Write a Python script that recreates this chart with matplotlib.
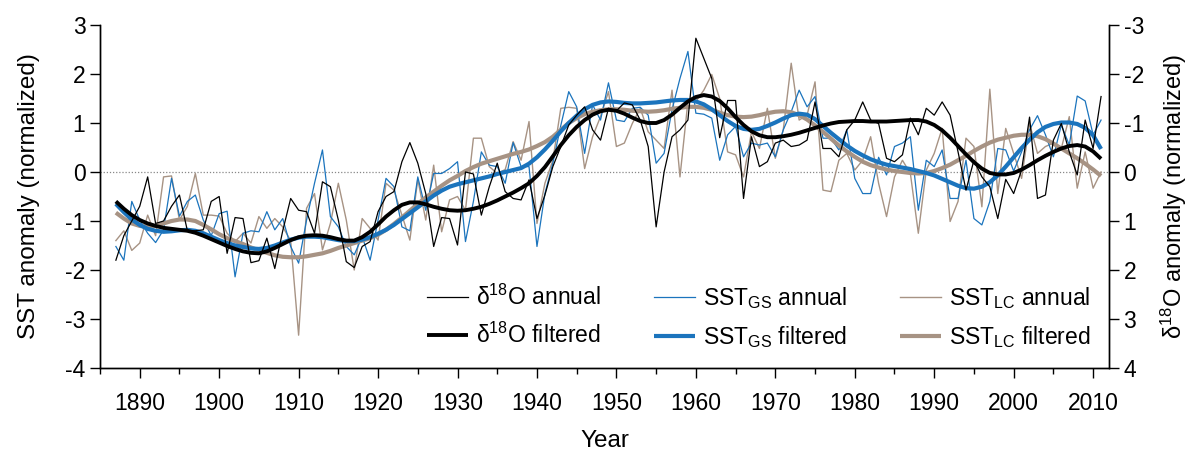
import numpy as np
import matplotlib
matplotlib.use("Agg")
import matplotlib.pyplot as plt

plt.rcParams['font.family'] = ['Liberation Sans', 'DejaVu Sans']
plt.rcParams['mathtext.fontset'] = 'custom'
plt.rcParams['mathtext.rm'] = 'Liberation Sans'
plt.rcParams['mathtext.default'] = 'regular'
plt.rcParams['axes.unicode_minus'] = False

years = np.arange(1887, 2012)

# coral d18O anomaly (normalized), plotted on the inverted right axis
d18o_annual = [
    1.80, 1.30, 1.00,
    0.70, 0.10, 1.05, 1.00, 0.70, 0.47, 1.20, 1.20, 1.18, 0.60,
    0.50, 1.66, 0.93, 0.95, 1.85, 1.81, 1.35, 1.97, 1.20, 0.54,
    0.78, 0.81, 1.25, 0.20, 0.30, 0.98, 1.83, 1.95, 1.52, 1.42,
    0.81, 0.50, 0.40, -0.21, -0.60, -0.18, 0.44, 1.52, 0.93, 0.95,
    1.49, 0.00, 0.04, 0.88, 0.30, -0.18, 0.40, 0.54, 0.57, 0.16,
    0.95, 0.47, -0.11, -0.52, -0.96, -1.16, -1.33, -0.86, -0.65, -1.30,
    -1.25, -1.41, -1.37, -1.06, -0.52, 1.12, 0.00, -0.72, -0.86, -1.06,
    -2.73, -2.32, -1.91, -0.70, -1.46, -1.46, 0.54, -0.72, -0.11, -0.21,
    -0.59, -0.65, -0.52, -0.55, -0.65, -1.43, -0.48, -0.48, -0.31, -0.86,
    -1.06, -1.43, -1.06, -0.99, -0.28, -0.21, -0.35, -1.10, -0.76, -1.30,
    -1.16, -1.43, -1.16, -0.41, 0.37, -0.24, 0.10, 0.30, 0.95, 0.15,
    0.44, -0.04, -1.12, 0.54, 0.47, -0.65, -0.99, -0.41, 0.06, -1.06,
    -0.48, -1.54,
]
d18o_filtered = [
    0.60, 0.75, 0.88,
    0.98, 1.05, 1.10, 1.14, 1.16, 1.18, 1.20, 1.24, 1.30, 1.37,
    1.44, 1.51, 1.57, 1.62, 1.65, 1.66, 1.62, 1.55, 1.47, 1.39,
    1.33, 1.30, 1.29, 1.30, 1.33, 1.37, 1.40, 1.40, 1.33, 1.22,
    1.07, 0.91, 0.78, 0.67, 0.62, 0.62, 0.66, 0.71, 0.75, 0.78,
    0.79, 0.78, 0.75, 0.71, 0.65, 0.58, 0.50, 0.42, 0.33, 0.23,
    0.08, -0.10, -0.32, -0.55, -0.75, -0.92, -1.06, -1.17, -1.24, -1.27,
    -1.25, -1.19, -1.11, -1.04, -1.00, -1.00, -1.06, -1.17, -1.31, -1.44,
    -1.53, -1.57, -1.54, -1.45, -1.30, -1.12, -0.96, -0.83, -0.75, -0.71,
    -0.71, -0.73, -0.76, -0.80, -0.85, -0.90, -0.95, -0.99, -1.02, -1.03,
    -1.04, -1.04, -1.03, -1.03, -1.03, -1.04, -1.05, -1.06, -1.06, -1.03,
    -0.96, -0.85, -0.70, -0.53, -0.36, -0.20, -0.07, 0.02, 0.05, 0.05,
    0.02, -0.05, -0.14, -0.24, -0.33, -0.41, -0.48, -0.53, -0.55, -0.52,
    -0.42, -0.27,
]

# SST anomaly (normalized), GS record
sst_gs_annual = [
    -1.52, -1.80, -0.60,
    -0.98, -1.25, -1.44, -1.18, -0.13, -0.90, -0.60, -0.47, -0.98, -1.30,
    -0.85, -0.80, -2.14, -1.25, -1.20, -1.22, -0.81, -1.18, -0.95, -1.52,
    -1.86, -0.98, -0.23, 0.45, -0.91, -1.12, -1.52, -1.69, -1.32, -1.80,
    -0.98, -0.13, -0.30, -1.12, -1.20, -0.10, -0.78, -0.03, -0.03, 0.07,
    0.21, -1.42, -0.60, 0.41, 0.14, 0.11, -0.23, 0.60, 0.11, 0.11,
    -1.52, -0.44, 0.18, 0.95, 1.64, 1.33, 0.38, 1.37, 1.06, 1.82,
    1.06, 1.03, 1.30, 1.32, 1.16, 0.18, 0.38, 1.27, 1.91, 2.46,
    1.20, 1.18, 1.10, 0.24, 0.76, 0.93, 0.31, 0.59, 0.55, 0.59,
    0.31, 0.86, 1.23, 1.67, 1.33, 1.54, 0.69, 0.69, 0.45, 0.86,
    -0.13, -0.44, -0.44, 0.30, -0.06, 0.52, 0.59, 0.72, -0.78, 0.24,
    0.11, 0.45, -0.54, -0.54, 0.24, -0.95, -1.08, -0.60, 0.48, 0.45,
    0.02, 0.41, 0.86, 1.15, 0.76, 0.31, 0.96, 0.55, 1.55, 1.45,
    0.76, 1.06,
]
sst_gs_filtered = [
    -0.65, -0.82, -0.97,
    -1.08, -1.16, -1.20, -1.22, -1.21, -1.19, -1.18, -1.20, -1.25, -1.32,
    -1.39, -1.45, -1.50, -1.53, -1.56, -1.57, -1.55, -1.50, -1.44, -1.38,
    -1.34, -1.32, -1.32, -1.33, -1.36, -1.39, -1.41, -1.41, -1.38, -1.33,
    -1.26, -1.18, -1.08, -0.96, -0.84, -0.72, -0.60, -0.48, -0.38, -0.30,
    -0.25, -0.21, -0.17, -0.13, -0.09, -0.04, 0.00, 0.04, 0.08, 0.17,
    0.30, 0.46, 0.64, 0.83, 1.00, 1.15, 1.28, 1.37, 1.42, 1.44,
    1.43, 1.41, 1.40, 1.40, 1.41, 1.42, 1.44, 1.46, 1.47, 1.47,
    1.44, 1.38, 1.28, 1.16, 1.04, 0.94, 0.88, 0.86, 0.88, 0.94,
    1.01, 1.09, 1.16, 1.19, 1.17, 1.08, 0.94, 0.80, 0.67, 0.54,
    0.43, 0.34, 0.26, 0.20, 0.15, 0.12, 0.09, 0.06, 0.02, -0.02,
    -0.07, -0.14, -0.21, -0.28, -0.33, -0.34, -0.30, -0.21, -0.07, 0.11,
    0.30, 0.49, 0.66, 0.81, 0.92, 0.98, 1.01, 1.01, 0.98, 0.90,
    0.75, 0.47,
]

# SST anomaly (normalized), LC record
sst_lc_annual = [
    -1.40, -1.20, -1.60,
    -1.45, -0.88, -1.30, -0.10, -0.08, -0.98, -0.70, -0.03, -0.88, -0.88,
    -0.90, -1.25, -1.42, -1.25, -1.45, -0.91, -1.15, -0.95, -1.12, -1.40,
    -3.33, -0.74, -0.44, -1.59, -1.05, -0.23, -0.98, -2.00, -0.95, -1.15,
    -1.39, -0.23, -0.37, -0.88, -1.39, -0.15, -0.98, 0.14, -1.22, -0.57,
    -0.50, -0.78, 0.69, 0.69, 0.11, -0.03, 0.05, 0.62, 0.24, 1.03,
    -1.05, -0.23, 0.24, 1.30, 1.32, 1.30, 0.07, 0.72, 1.13, 1.64,
    0.52, 0.59, 0.99, 1.30, 0.82, 0.65, 0.48, 1.67, -0.10, 1.44,
    1.44, 1.67, 1.99, 1.50, 0.41, 0.35, -0.10, 0.82, 0.48, 1.30,
    0.28, 0.86, 2.22, 1.06, 1.16, 1.84, -0.37, -0.40, 0.24, 0.38,
    0.04, 0.24, 0.72, -0.23, -0.91, -0.10, 0.24, -0.03, -1.25, 0.04,
    0.38, 0.89, -1.01, -0.60, 0.69, 0.52, -0.71, 1.69, -0.44, 0.89,
    0.38, -0.13, 0.99, 0.38, 0.52, 0.59, 0.48, 1.13, -0.33, 0.41,
    -0.33, 0.00,
]
sst_lc_filtered = [
    -0.83, -0.95, -1.05,
    -1.10, -1.12, -1.10, -1.05, -1.00, -0.97, -0.97, -1.00, -1.08, -1.17,
    -1.27, -1.35, -1.41, -1.47, -1.54, -1.60, -1.65, -1.70, -1.73, -1.74,
    -1.74, -1.72, -1.69, -1.66, -1.61, -1.55, -1.50, -1.45, -1.40, -1.35,
    -1.28, -1.18, -1.06, -0.93, -0.79, -0.65, -0.52, -0.40, -0.28, -0.17,
    -0.08, 0.02, 0.10, 0.17, 0.22, 0.27, 0.32, 0.37, 0.41, 0.46,
    0.53, 0.61, 0.72, 0.86, 1.00, 1.10, 1.18, 1.23, 1.26, 1.28,
    1.28, 1.27, 1.25, 1.24, 1.23, 1.24, 1.26, 1.29, 1.31, 1.33,
    1.33, 1.31, 1.27, 1.21, 1.16, 1.13, 1.12, 1.13, 1.16, 1.20,
    1.23, 1.24, 1.22, 1.16, 1.07, 0.95, 0.82, 0.68, 0.54, 0.42,
    0.31, 0.21, 0.14, 0.09, 0.05, 0.02, 0.00, -0.02, -0.03, -0.02,
    0.02, 0.08, 0.15, 0.24, 0.33, 0.43, 0.52, 0.60, 0.66, 0.70,
    0.74, 0.76, 0.76, 0.73, 0.67, 0.58, 0.48, 0.38, 0.28, 0.17,
    0.05, -0.08,
]

black = '#000000'
blue = '#1b74bd'
brown = '#a79384'

fig, ax = plt.subplots(figsize=(11.94, 4.55), dpi=100)
fig.subplots_adjust(left=100 / 1194, right=1109 / 1194, top=1 - 25 / 455, bottom=1 - 368 / 455)
ax2 = ax.twinx()

ax.axhline(0, color='#888888', lw=0.9, ls=(0, (1, 1.5)), zorder=1)

h_lc_a, = ax.plot(years, sst_lc_annual, color=brown, lw=1.0, zorder=2)
h_gs_a, = ax.plot(years, sst_gs_annual, color=blue, lw=0.9, zorder=3)
h_lc_f, = ax.plot(years, sst_lc_filtered, color=brown, lw=3.0, zorder=4, solid_capstyle='butt')
h_gs_f, = ax.plot(years, sst_gs_filtered, color=blue, lw=3.0, zorder=5, solid_capstyle='butt')
h_o_a, = ax2.plot(years, d18o_annual, color=black, lw=0.9)
h_o_f, = ax2.plot(years, d18o_filtered, color=black, lw=2.8, solid_capstyle='butt')

ax.set_xlim(1886, 2012)
ax.set_ylim(-4, 3)
ax2.set_ylim(4, -3)

ax.set_xticks(np.arange(1890, 2011, 10))
ax.set_xticks(np.arange(1885, 2012, 5), minor=True)
ax.set_yticks(np.arange(-4, 4, 1))
ax2.set_yticks(np.arange(-3, 5, 1))

for a in (ax, ax2):
    a.spines['top'].set_visible(False)
    for s in a.spines.values():
        s.set_linewidth(1.0)
    a.tick_params(which='major', direction='out', length=7, width=1.0, labelsize=16.5)
    a.tick_params(which='minor', direction='out', length=4.5, width=1.0)
ax.tick_params(axis='x', pad=10)

ax.set_xlabel('Year', fontsize=17.5, labelpad=11)
ax.set_ylabel('SST anomaly (normalized)', fontsize=17.5, labelpad=18)
ax2.set_ylabel('δ$^{18}$O anomaly (normalized)', fontsize=17, labelpad=11)

handles = [h_o_a, h_o_f, h_gs_a, h_gs_f, h_lc_a, h_lc_f]
labels = ['δ$^{18}$O annual', 'δ$^{18}$O filtered',
          'SST$_{GS}$ annual', 'SST$_{GS}$ filtered',
          'SST$_{LC}$ annual', 'SST$_{LC}$ filtered']
ax2.legend(handles, labels, ncol=3, loc='lower right', bbox_to_anchor=(1.0, 0.0),
           frameon=False, fontsize=16.5, handlelength=1.8, handletextpad=0.35,
           columnspacing=2.3, labelspacing=0.55, borderaxespad=0.4)

fig.savefig('out.png', dpi=100)
